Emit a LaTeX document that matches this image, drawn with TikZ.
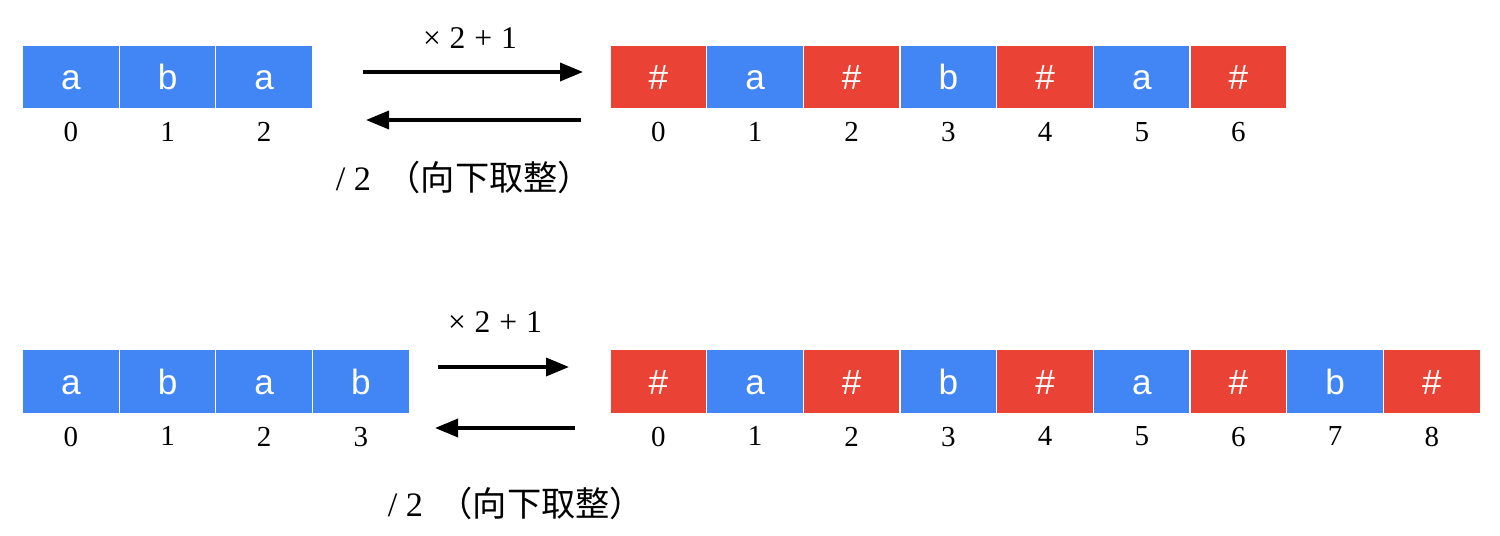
\documentclass[tikz,border=0pt]{standalone}
\usepackage{fontspec}
\setmainfont{Liberation Serif}
\setsansfont{Liberation Sans}
\newfontfamily\cjkfont{Noto Sans CJK SC}
\usepackage{tikz}
\usetikzlibrary{positioning, arrows.meta}
\usepackage{xcolor}
\definecolor{cellblue}{HTML}{4285F4}
\definecolor{cellred}{HTML}{EA4335}

\begin{document}
\begin{tikzpicture}[
  x=0.02cm, y=-0.02cm,
  cell/.style={rectangle, draw=white, line width=0.7pt, outer sep=0pt, inner sep=0pt, minimum width=19.34mm, minimum height=12.8mm, text height=14.3pt, text depth=0pt, text=white, font=\sffamily\fontsize{20}{20}\selectfont},
  chr/.style={cell, fill=cellblue},
  hash/.style={cell, fill=cellred},
  idx/.style={inner sep=0pt, font=\fontsize{16.5}{16.5}\selectfont},
  lbl/.style={inner sep=0pt, font=\fontsize{18}{18}\selectfont},
  divlbl/.style={inner sep=0pt, font=\fontsize{19.5}{19.5}\selectfont},
  arr/.style={-{Triangle[length=4.6mm, width=3.6mm]}, line width=2pt}
]
\useasboundingbox (0,0) rectangle (1500,536);
% ----- Row A: original string -----
\node[chr] (sA0) at (70.85,77) {a};     \node[idx, below=2.6mm of sA0] (iA0) {0};
\node[chr, right=0pt of sA0] (sA1) {b}; \node[idx, below=2.6mm of sA1] (iA1) {1};
\node[chr, right=0pt of sA1] (sA2) {a}; \node[idx, below=2.6mm of sA2] (iA2) {2};
% ----- Row A: with separators -----
\node[hash] (tA0) at (658.35,77) {\#};   \node[idx, below=2.6mm of tA0] (jA0) {0};
\node[chr, right=0pt of tA0] (tA1) {a};  \node[idx, below=2.6mm of tA1] (jA1) {1};
\node[hash, right=0pt of tA1] (tA2) {\#}; \node[idx, below=2.6mm of tA2] (jA2) {2};
\node[chr, right=0pt of tA2] (tA3) {b};  \node[idx, below=2.6mm of tA3] (jA3) {3};
\node[hash, right=0pt of tA3] (tA4) {\#}; \node[idx, below=2.6mm of tA4] (jA4) {4};
\node[chr, right=0pt of tA4] (tA5) {a};  \node[idx, below=2.6mm of tA5] (jA5) {5};
\node[hash, right=0pt of tA5] (tA6) {\#}; \node[idx, below=2.6mm of tA6] (jA6) {6};
% ----- Row A: mapping -----
\coordinate (fwdA1) at (363,72);  \coordinate (fwdA2) at (583,72);
\coordinate (bwdA1) at (581,120); \coordinate (bwdA2) at (366,120);
\draw[arr] (fwdA1) -- (fwdA2);
\draw[arr] (bwdA1) -- (bwdA2);
\node[lbl] (mulA) at (470,38) {×\hspace{0.28em}2\hspace{0.28em}+\hspace{0.28em}1};
\node[divlbl] (divA) at (464,177) {/ 2\hspace{0.45em}{\cjkfont （向下取整）}};
% ----- Row B: original string -----
\node[chr] (sB0) at (70.85,381.5) {a};  \node[idx, below=2.6mm of sB0] (iB0) {0};
\node[chr, right=0pt of sB0] (sB1) {b}; \node[idx, below=2.6mm of sB1] (iB1) {1};
\node[chr, right=0pt of sB1] (sB2) {a}; \node[idx, below=2.6mm of sB2] (iB2) {2};
\node[chr, right=0pt of sB2] (sB3) {b}; \node[idx, below=2.6mm of sB3] (iB3) {3};
% ----- Row B: with separators -----
\node[hash] (tB0) at (658.35,381.5) {\#}; \node[idx, below=2.6mm of tB0] (jB0) {0};
\node[chr, right=0pt of tB0] (tB1) {a};  \node[idx, below=2.6mm of tB1] (jB1) {1};
\node[hash, right=0pt of tB1] (tB2) {\#}; \node[idx, below=2.6mm of tB2] (jB2) {2};
\node[chr, right=0pt of tB2] (tB3) {b};  \node[idx, below=2.6mm of tB3] (jB3) {3};
\node[hash, right=0pt of tB3] (tB4) {\#}; \node[idx, below=2.6mm of tB4] (jB4) {4};
\node[chr, right=0pt of tB4] (tB5) {a};  \node[idx, below=2.6mm of tB5] (jB5) {5};
\node[hash, right=0pt of tB5] (tB6) {\#}; \node[idx, below=2.6mm of tB6] (jB6) {6};
\node[chr, right=0pt of tB6] (tB7) {b};  \node[idx, below=2.6mm of tB7] (jB7) {7};
\node[hash, right=0pt of tB7] (tB8) {\#}; \node[idx, below=2.6mm of tB8] (jB8) {8};
% ----- Row B: mapping -----
\coordinate (fwdB1) at (438,367); \coordinate (fwdB2) at (569,367);
\coordinate (bwdB1) at (575,428); \coordinate (bwdB2) at (435,428);
\draw[arr] (fwdB1) -- (fwdB2);
\draw[arr] (bwdB1) -- (bwdB2);
\node[lbl] (mulB) at (495,322) {×\hspace{0.28em}2\hspace{0.28em}+\hspace{0.28em}1};
\node[divlbl] (divB) at (516,503) {/ 2\hspace{0.45em}{\cjkfont （向下取整）}};
\end{tikzpicture}
\end{document}
